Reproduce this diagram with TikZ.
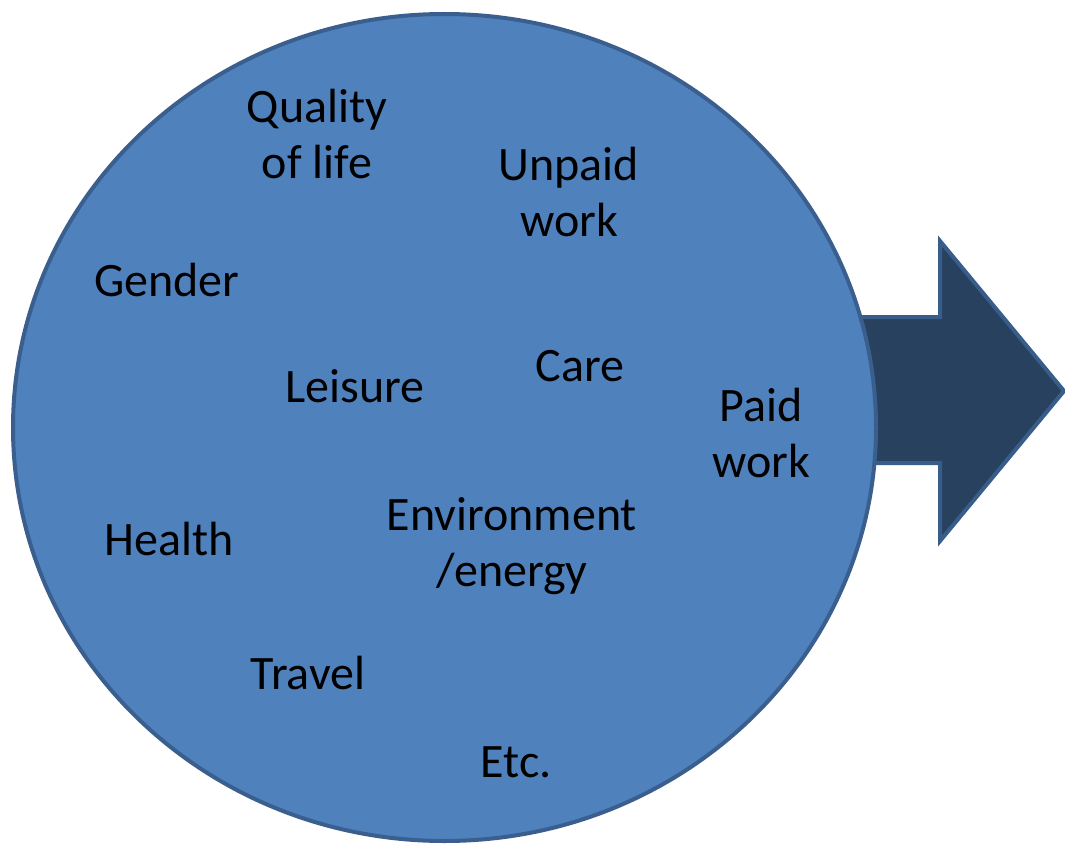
\documentclass[tikz,border=0pt]{standalone}
\usepackage{fontspec}
\setmainfont{Carlito}
\definecolor{circfill}{HTML}{4F81BD}
\definecolor{circline}{HTML}{3A5F8E}
\definecolor{arrfill}{HTML}{27415F}
\definecolor{arrline}{HTML}{385D8A}
\begin{document}
\begin{tikzpicture}[x=1pt,y=-1pt,
  lbl/.style={font=\fontsize{48}{56}\selectfont, align=center, text=black, inner sep=0pt}]
\useasboundingbox (0,0) rectangle (1065,845);
\draw[fill=arrfill, draw=arrline, line width=4pt, line join=miter]
  (860,317) -- (940,317) -- (940,241) -- (1064,391) -- (940,541) -- (940,463) -- (860,463) -- cycle;
\draw[fill=circfill, draw=circline, line width=4pt]
  (444.5,427.5) ellipse [x radius=431.5, y radius=413.5];
\node[lbl] (q) at (317,134) {Quality\\of life};
\node[lbl] (u) at (569,192) {Unpaid\\work};
\node[lbl] (g) at (167,280) {Gender};
\node[lbl] (l) at (355,386) {Leisure};
\node[lbl] (c) at (580,366) {Care};
\node[lbl] (p) at (761,433) {Paid\\work};
\node[lbl] (h) at (169,539) {Health};
\node[lbl] (e) at (512,546) {Environment\\/energy};
\node[lbl] (t) at (308,673) {Travel};
\node[lbl] (x) at (516,762) {Etc.};
\end{tikzpicture}
\end{document}
